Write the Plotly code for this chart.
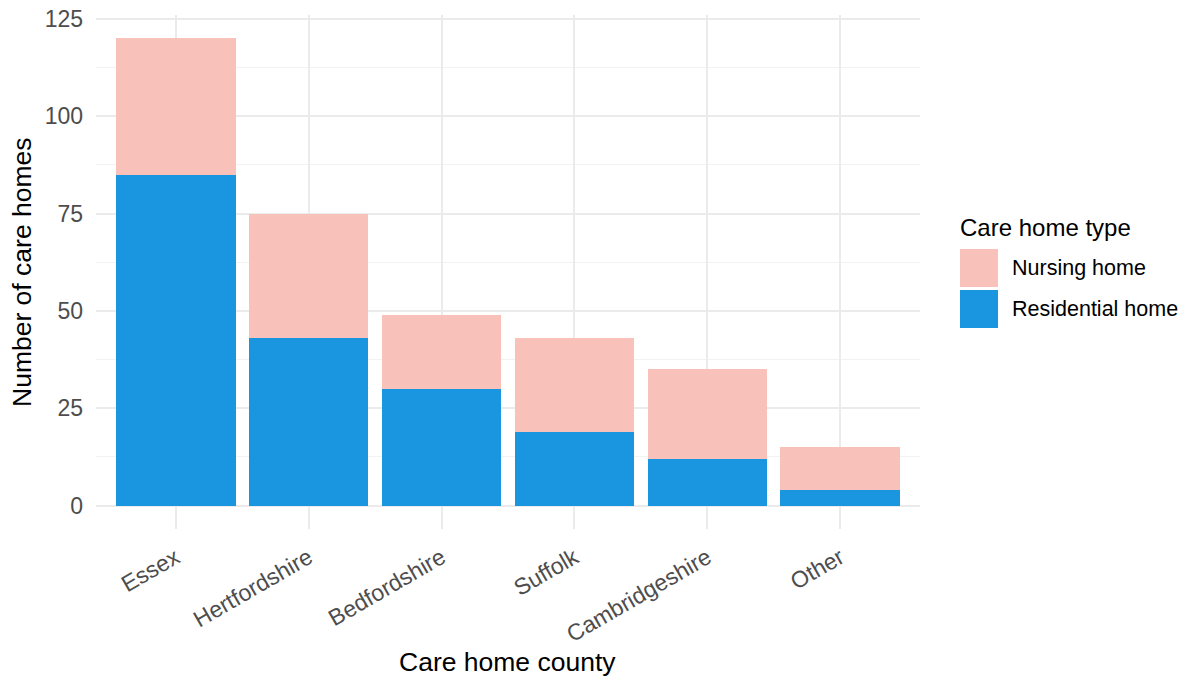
import plotly.graph_objects as go

counties = ["Essex", "Hertfordshire", "Bedfordshire", "Suffolk", "Cambridgeshire", "Other"]
residential = [85, 43, 30, 19, 12, 4]
nursing = [35, 32, 19, 24, 23, 11]
series_names = ["Nursing home", "Residential home"]
y_ticks = [0, 25, 50, 75, 100, 125]

c_nurs = "#F8C1B9"
c_res = "#1A96E0"
font = "Liberation Sans, Arial, Helvetica, sans-serif"

# body margin is removed by the post script, so the figure fills the window
W, H = 1186, 677
L, R, T, B = 96, 920, 15, 529

fig = go.Figure()
fig.add_trace(go.Bar(x=counties, y=residential, name=series_names[1], marker_color=c_res,
                     marker_line_width=0, width=0.9, showlegend=False))
fig.add_trace(go.Bar(x=counties, y=nursing, name=series_names[0], marker_color=c_nurs,
                     marker_line_width=0, width=0.9, showlegend=False))

fig.update_layout(
    width=W, height=H, barmode="stack", bargap=0.1,
    plot_bgcolor="white", paper_bgcolor="white",
    margin=dict(l=L, r=W - R, t=T, b=H - B, pad=0, autoexpand=False),
    font=dict(family=font, color="#000000"),
    xaxis=dict(
        range=[-0.6, 5.6], tickangle=-30, showgrid=True, gridcolor="#EBEBEB", gridwidth=2,
        tickfont=dict(size=23, color="#4D4D4D"), ticks="", zeroline=False, showline=False,
        automargin=False, ticklabelstandoff=10, ticklabeloverflow="allow",
    ),
    yaxis=dict(
        range=[-6, 126], tickvals=y_ticks, showgrid=True, gridcolor="#EBEBEB", gridwidth=2,
        minor=dict(tickvals=[12.5, 37.5, 62.5, 87.5, 112.5], showgrid=True, gridcolor="#F2F2F2", gridwidth=1),
        tickfont=dict(size=23, color="#4D4D4D"), ticks="", zeroline=False, showline=False,
        automargin=False, ticklabelstandoff=12, ticklabeloverflow="allow",
    ),
)

def px(x):
    return (x - L) / (R - L)

def py(y):
    return (B - y) / (B - T)

# Axis titles
fig.add_annotation(x=px(507), y=py(662), xref="paper", yref="paper", text="Care home county",
                   showarrow=False, xanchor="center", yanchor="middle", font=dict(size=26.5, color="#000000"))
fig.add_annotation(x=px(22), y=py(272), xref="paper", yref="paper", text="Number of care homes",
                   showarrow=False, xanchor="center", yanchor="middle", textangle=-90,
                   font=dict(size=26.5, color="#000000"))

# Manual legend (ggplot style large keys)
fig.add_annotation(x=px(958), y=py(227), xref="paper", yref="paper", text="Care home type",
                   showarrow=False, xanchor="left", yanchor="middle", font=dict(size=24, color="#000000"))
keys = [(series_names[0], c_nurs, 249), (series_names[1], c_res, 290)]
for name, col, top in keys:
    fig.add_shape(type="rect", xref="paper", yref="paper", x0=px(960), x1=px(998),
                  y0=py(top + 38), y1=py(top), fillcolor=col, line_width=0)
    fig.add_annotation(x=px(1010), y=py(top + 19), xref="paper", yref="paper", text=name,
                       showarrow=False, xanchor="left", yanchor="middle", font=dict(size=21.5, color="#000000"))

fig.write_html("out.html", config={"displayModeBar": False},
               post_script="document.body.style.margin='0px';")
